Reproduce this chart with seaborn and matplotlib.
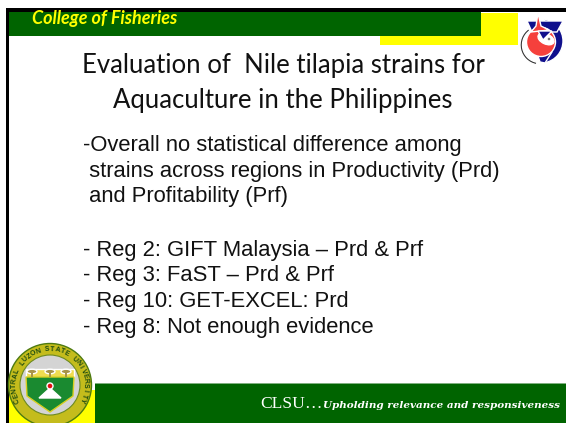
"""Slide layout: Nile tilapia strain evaluation summary."""

import matplotlib.pyplot as plt
import numpy as np
import seaborn as sns
from matplotlib.patches import Circle, Ellipse, Polygon, Rectangle, Wedge

sns.set_theme(style="white")

HEADER_TEXT = "College of Fisheries"
TITLE_LINES = ["Evaluation of  Nile tilapia strains for", "Aquaculture in the Philippines"]
SUMMARY_LINES = [
    "-Overall no statistical difference among",
    " strains across regions in Productivity (Prd)",
    " and Profitability (Prf)",
]
REGION_LINES = [
    "- Reg 2: GIFT Malaysia \u2013 Prd & Prf",
    "- Reg 3: FaST \u2013 Prd & Prf",
    "- Reg 10: GET-EXCEL: Prd",
    "- Reg 8: Not enough evidence",
]
FOOTER_PREFIX = "CLSU\u2026"
FOOTER_MOTTO = "Upholding relevance and responsiveness"
SEAL_TEXT = "CENTRAL LUZON STATE UNIVERSITY"

GREEN = "#006400"
YELLOW = "#ffff00"
NAVY = "#10108c"
RED = "#f5403c"

fig = plt.figure(figsize=(5.66, 4.23), dpi=100)
ax = fig.add_axes([0, 0, 1, 1])
ax.set_xlim(0, 566)
ax.set_ylim(423, 0)
ax.axis("off")


def rect(x, y, w, h, color, z=1):
    ax.add_patch(Rectangle((x, y), w, h, facecolor=color, edgecolor="none", zorder=z))


# frame and colour bands
rect(6, 8, 560, 4, "black", 3)
rect(6, 8, 3, 415, "black", 3)
rect(380, 13, 138, 32, YELLOW, 1)
rect(9, 12, 472, 24, GREEN, 2)
rect(9, 390, 86, 33, YELLOW, 1)
rect(95, 383, 471, 40, GREEN, 2)
rect(95, 383, 471, 1, "#7fb07f", 3)

# fisheries logo, top right
ax.add_patch(Wedge((541, 41), 22, -80, 80, width=9, facecolor=NAVY, zorder=4))
ax.add_patch(Polygon([(527, 21), (563, 21), (557, 32), (532, 32)], facecolor=NAVY, zorder=4))
ax.add_patch(Polygon([(538, 56), (552, 52), (545, 63), (540, 62)], facecolor=NAVY, zorder=4))
ax.add_patch(Circle((541, 42), 14.5, facecolor=RED, zorder=5))
ax.add_patch(Polygon([(538, 13), (541, 26), (549, 30), (531, 32), (536, 26)], facecolor=RED, zorder=5))
ax.add_patch(Ellipse((546, 39), 17, 10, angle=25, facecolor="white", zorder=6))
ax.add_patch(Polygon([(538, 31), (552, 31), (543, 40)], facecolor=NAVY, zorder=7))
ax.add_patch(Circle((549, 39), 2, facecolor="#777777", zorder=7))
ax.add_patch(Wedge((540, 45), 20, 100, 235, width=2.5, facecolor="#333333", zorder=4))

# university seal, bottom left
seal_x, seal_y = 50, 385
ax.add_patch(Circle((seal_x, seal_y), 41.5, facecolor="#c4bc1c", edgecolor="#4d7a10", lw=1, zorder=4))
ax.add_patch(Circle((seal_x, seal_y), 30, facecolor="#d4d4d4", edgecolor="#6d8a20", lw=0.8, zorder=5))
ax.add_patch(Rectangle((seal_x - 24, 369), 48, 8, facecolor="#f0dc50", zorder=6))
ax.add_patch(Polygon([(seal_x - 24, 377), (seal_x + 24, 377), (seal_x + 23, 396), (seal_x, 412), (seal_x - 23, 396)],
                     facecolor="#1a8a30", edgecolor="#d8d020", lw=1, zorder=6))
ax.add_patch(Polygon([(seal_x - 11, 398), (seal_x, 388), (seal_x + 11, 398)], facecolor="white", zorder=7))
ax.add_patch(Circle((seal_x, 386), 3, facecolor="#e01010", zorder=8))
for tree_x in [seal_x - 18, seal_x, seal_x + 16]:
    ax.add_patch(Ellipse((tree_x, 371.5), 10, 4.5, facecolor="#a89448", zorder=7))
    rect(tree_x - 1, 372, 2, 5, "#a89448", 7)
# lettering round the ring, going clockwise over the top
for ch, ang in zip(SEAL_TEXT, np.linspace(205, -25, len(SEAL_TEXT))):
    rad = np.deg2rad(ang)
    ax.text(seal_x + 35.5 * np.cos(rad), seal_y - 35.5 * np.sin(rad), ch, family="Liberation Sans", weight="bold",
            fontsize=5, color="#1c4a10", rotation=ang - 90, ha="center", va="center", zorder=9)

# text
ax.text(32, 24, HEADER_TEXT, family="Lato", style="italic", weight="bold", fontsize=13,
        color=YELLOW, va="baseline", zorder=5)
for y, line in zip([73, 108], TITLE_LINES):
    ax.text(283, y, line, family="Lato", fontsize=18.5, color="#111111", ha="center", va="baseline", zorder=5)
for y, line in zip([151, 177, 202], SUMMARY_LINES):
    ax.text(83, y, line, family="Liberation Sans", fontsize=15.8, color="#111111", va="baseline", zorder=5)
for y, line in zip([256, 281, 307, 333], REGION_LINES):
    ax.text(83, y, line, family="Liberation Sans", fontsize=15.8, color="#111111", va="baseline", zorder=5)
ax.text(260, 408, FOOTER_PREFIX, family="Liberation Serif", fontsize=12.6, color="white", va="baseline", zorder=5)
ax.text(323, 408, FOOTER_MOTTO, family="DejaVu Serif", style="italic", weight="bold", fontsize=7.5,
        color="white", va="baseline", zorder=5)

fig.savefig("out.png", dpi=100)
